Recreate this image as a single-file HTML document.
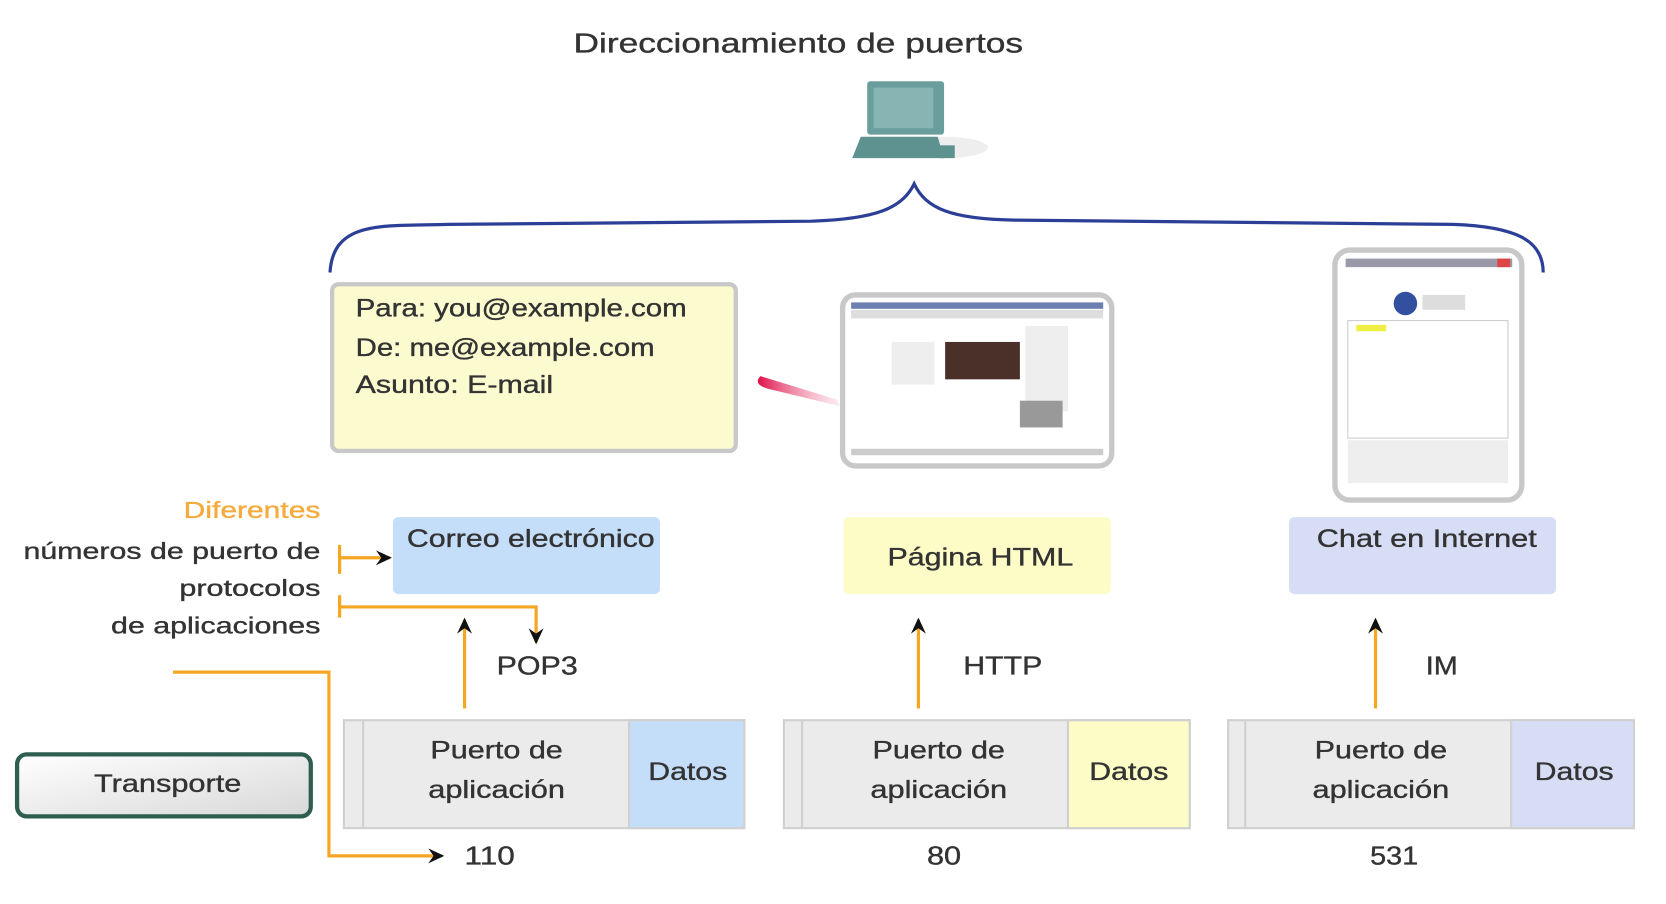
<!DOCTYPE html>
<html><head><meta charset="utf-8"><style>
html,body{margin:0;padding:0;background:#fff;}
svg{display:block;}
text{font-family:"Liberation Sans",Arial,sans-serif;fill:#333;stroke:#333;stroke-width:0.35;}
</style></head><body>
<svg width="1666" height="904" viewBox="0 0 1560 846" preserveAspectRatio="none" xmlns="http://www.w3.org/2000/svg">
<defs>
<linearGradient id="tg" x1="0" y1="0" x2="1" y2="1"><stop offset="0" stop-color="#ffffff"/><stop offset="1" stop-color="#d8d8d8"/></linearGradient>
<linearGradient id="rp" x1="0" y1="0" x2="1" y2="0"><stop offset="0" stop-color="#e0104a"/><stop offset="1" stop-color="#f4b8c8" stop-opacity="0.3"/></linearGradient>
<marker id="ah" markerWidth="16" markerHeight="16" refX="13" refY="8" orient="auto" markerUnits="userSpaceOnUse"><path d="M0,1 L15,8 L0,15 L5,8 Z" fill="#111"/></marker>
</defs>
<text x="537" y="49" font-size="26" textLength="421" lengthAdjust="spacingAndGlyphs">Direccionamiento de puertos</text>
<g>
<ellipse cx="885" cy="138" rx="40" ry="10" fill="#ddd" opacity="0.5"/>
<rect x="812" y="76" width="72" height="50" rx="3" fill="#6a9e9c"/>
<rect x="818" y="82" width="56" height="38" fill="#86b5b3"/>
<path d="M806 128 L878 128 L884 148 L798 148 Z" fill="#5e9290"/>
<rect x="880" y="136" width="14" height="12" fill="#5e9290"/>
</g>
<path d="M309 255 C312 205 360 212 420 210 L760 207 C820 205 845 195 856 172 C867 195 890 205 950 206 L1360 210 C1420 212 1445 225 1445 255" fill="none" stroke="#2b3f96" stroke-width="3"/>
<rect x="311" y="266" width="378" height="156" rx="6" fill="#fcfbcf" stroke="#c8c8c8" stroke-width="4"/>
<text x="333" y="296" font-size="23" textLength="310" lengthAdjust="spacingAndGlyphs">Para: you@example.com</text>
<text x="333" y="333" font-size="23" textLength="280" lengthAdjust="spacingAndGlyphs">De: me@example.com</text>
<text x="333" y="368" font-size="23" textLength="185" lengthAdjust="spacingAndGlyphs">Asunto: E-mail</text>
<path d="M712 352 C706 358 712 362 720 364 L786 380 L784 374 Z" fill="url(#rp)"/>
<rect x="789" y="276" width="252" height="160" rx="12" fill="#fff" stroke="#c8c8c8" stroke-width="5"/>
<rect x="797" y="283" width="236" height="6" fill="#6b7fb0"/>
<rect x="797" y="290" width="236" height="8" fill="#ddd"/>
<rect x="885" y="320" width="70" height="35" fill="#4a3028"/>
<rect x="835" y="320" width="40" height="40" fill="#eee"/>
<rect x="960" y="305" width="40" height="80" fill="#eee"/>
<rect x="955" y="375" width="40" height="25" fill="#999"/>
<rect x="797" y="420" width="236" height="6" fill="#ccc"/>
<rect x="1250" y="234" width="175" height="234" rx="14" fill="#fff" stroke="#c8c8c8" stroke-width="5"/>
<rect x="1260" y="242" width="156" height="8" fill="#99a"/>
<rect x="1402" y="242" width="12" height="8" fill="#d44"/>
<circle cx="1316" cy="284" r="11" fill="#334fa0"/>
<rect x="1332" y="276" width="40" height="14" fill="#ddd"/>
<rect x="1270" y="304" width="28" height="6" fill="#ee4"/>
<rect x="1262" y="300" width="150" height="110" fill="none" stroke="#ccc"/>
<rect x="1262" y="412" width="150" height="40" fill="#eee"/>
<rect x="368" y="484" width="250" height="72" rx="5" fill="#c4defa"/>
<text x="381" y="512" font-size="23" textLength="232" lengthAdjust="spacingAndGlyphs">Correo electrónico</text>
<rect x="790" y="484" width="250" height="72" rx="5" fill="#fdfbc6"/>
<text x="831" y="529" font-size="23" textLength="174" lengthAdjust="spacingAndGlyphs">Página HTML</text>
<rect x="1207" y="484" width="250" height="72" rx="5" fill="#d8ddf6"/>
<text x="1233" y="512" font-size="23" textLength="206" lengthAdjust="spacingAndGlyphs">Chat en Internet</text>
<text x="172" y="485" font-size="22" textLength="128" lengthAdjust="spacingAndGlyphs" style="fill:#f5aa3c;stroke:#f5aa3c">Diferentes</text>
<text x="22" y="523" font-size="22" textLength="278" lengthAdjust="spacingAndGlyphs">números de puerto de</text>
<text x="168" y="558" font-size="22" textLength="132" lengthAdjust="spacingAndGlyphs">protocolos</text>
<text x="104" y="593" font-size="22" textLength="196" lengthAdjust="spacingAndGlyphs">de aplicaciones</text>
<g stroke="#f5a623" stroke-width="3" fill="none">
<line x1="318" y1="510" x2="318" y2="537"/>
<line x1="318" y1="557" x2="318" y2="578"/>
<line x1="318" y1="522" x2="365" y2="522" marker-end="url(#ah)"/>
<path d="M318 568 L502 568 L502 601" marker-end="url(#ah)"/>
<line x1="435" y1="663" x2="435" y2="580" marker-end="url(#ah)"/>
<line x1="860" y1="663" x2="860" y2="580" marker-end="url(#ah)"/>
<line x1="1288" y1="663" x2="1288" y2="580" marker-end="url(#ah)"/>
<path d="M162 629 L308 629 L308 801 L414 801" marker-end="url(#ah)"/>
</g>
<text x="465" y="631" font-size="24" textLength="76" lengthAdjust="spacingAndGlyphs">POP3</text>
<text x="902" y="631" font-size="24" textLength="74" lengthAdjust="spacingAndGlyphs">HTTP</text>
<text x="1335" y="631" font-size="24" textLength="30" lengthAdjust="spacingAndGlyphs">IM</text>
<g stroke="#d0d0d0" stroke-width="2">
<rect x="322" y="674" width="375" height="101" fill="#ebebeb"/>
<line x1="340" y1="674" x2="340" y2="775"/>
<rect x="589" y="674" width="108" height="101" fill="#c4defa"/>
<rect x="734" y="674" width="380" height="101" fill="#ebebeb"/>
<line x1="751" y1="674" x2="751" y2="775"/>
<rect x="1000" y="674" width="114" height="101" fill="#fdfbc6"/>
<rect x="1150" y="674" width="380" height="101" fill="#ebebeb"/>
<line x1="1166" y1="674" x2="1166" y2="775"/>
<rect x="1415" y="674" width="115" height="101" fill="#d8ddf6"/>
</g>
<text x="403" y="710" font-size="23" textLength="124" lengthAdjust="spacingAndGlyphs">Puerto de</text>
<text x="401" y="747" font-size="23" textLength="128" lengthAdjust="spacingAndGlyphs">aplicación</text>
<text x="607" y="730" font-size="23" textLength="74" lengthAdjust="spacingAndGlyphs">Datos</text>
<text x="817" y="710" font-size="23" textLength="124" lengthAdjust="spacingAndGlyphs">Puerto de</text>
<text x="815" y="747" font-size="23" textLength="128" lengthAdjust="spacingAndGlyphs">aplicación</text>
<text x="1020" y="730" font-size="23" textLength="74" lengthAdjust="spacingAndGlyphs">Datos</text>
<text x="1231" y="710" font-size="23" textLength="124" lengthAdjust="spacingAndGlyphs">Puerto de</text>
<text x="1229" y="747" font-size="23" textLength="128" lengthAdjust="spacingAndGlyphs">aplicación</text>
<text x="1437" y="730" font-size="23" textLength="74" lengthAdjust="spacingAndGlyphs">Datos</text>
<rect x="16" y="706" width="275" height="58" rx="9" fill="url(#tg)" stroke="#2e5e50" stroke-width="4"/>
<text x="88" y="741" font-size="23" textLength="138" lengthAdjust="spacingAndGlyphs">Transporte</text>
<text x="435" y="809" font-size="24" textLength="47" lengthAdjust="spacingAndGlyphs">110</text>
<text x="868" y="809" font-size="24" textLength="32" lengthAdjust="spacingAndGlyphs">80</text>
<text x="1283" y="809" font-size="24" textLength="45" lengthAdjust="spacingAndGlyphs">531</text>
</svg>
</body></html>
